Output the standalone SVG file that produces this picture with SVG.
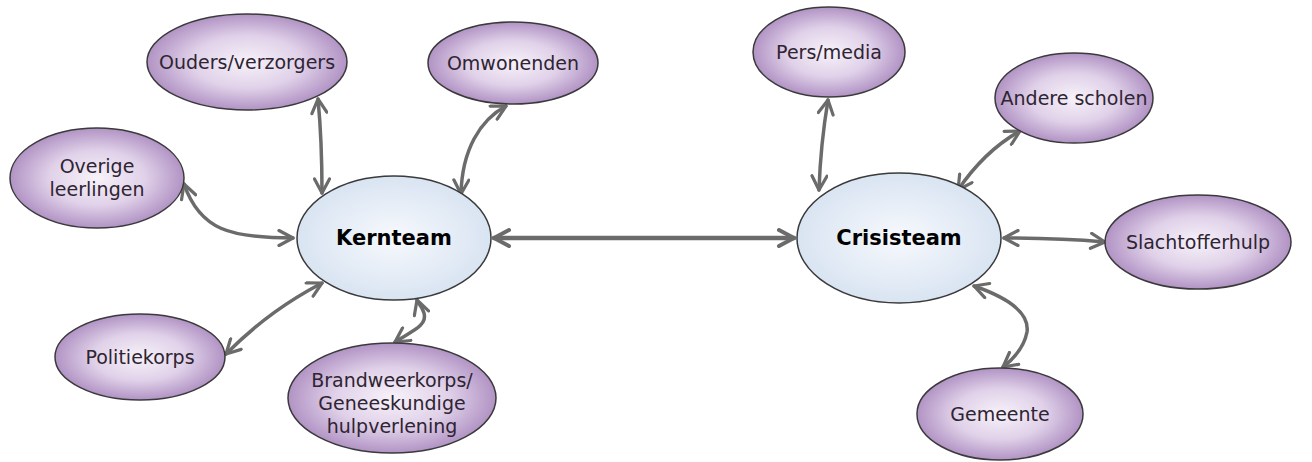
<svg xmlns="http://www.w3.org/2000/svg" width="1312" height="462" viewBox="0 0 1312 462">
<defs>
<radialGradient id="gp" cx="50%" cy="50%" r="50%">
<stop offset="0" stop-color="#f7f2f9"/>
<stop offset="0.55" stop-color="#e0d1e9"/>
<stop offset="1" stop-color="#b193c4"/>
</radialGradient>
<radialGradient id="gb" cx="50%" cy="50%" r="50%">
<stop offset="0" stop-color="#f7f9fd"/>
<stop offset="1" stop-color="#d9e4f2"/>
</radialGradient>
<marker id="ah" viewBox="0 0 18 18" refX="16" refY="9" markerWidth="18" markerHeight="18" markerUnits="userSpaceOnUse" orient="auto-start-reverse">
<path d="M2,1.5 L16,9 L2,16.5" fill="none" stroke="#6b6b6b" stroke-width="3.2" stroke-linecap="round" stroke-linejoin="round"/>
</marker>
<marker id="ahb" viewBox="0 0 20 20" refX="18" refY="10" markerWidth="20" markerHeight="20" markerUnits="userSpaceOnUse" orient="auto-start-reverse">
<path d="M3,2 L18,10 L3,18" fill="none" stroke="#6b6b6b" stroke-width="4" stroke-linecap="round" stroke-linejoin="round"/>
</marker>
</defs>
<style>
.p{fill:url(#gp);stroke:#3a3a3a;stroke-width:1.5}
.b{fill:url(#gb);stroke:#3a3a3a;stroke-width:1.5}
.t{font-family:"DejaVu Sans",Verdana,sans-serif;font-size:19px;fill:#2e2432;text-anchor:middle}
.k{font-family:"DejaVu Sans",Verdana,sans-serif;font-size:21px;font-weight:bold;fill:#000;text-anchor:middle}
.c{fill:none;stroke:#6b6b6b;stroke-width:3.5;stroke-linecap:round;marker-start:url(#ah);marker-end:url(#ah)}
.cb{fill:none;stroke:#6b6b6b;stroke-width:4.5;stroke-linecap:round;marker-start:url(#ahb);marker-end:url(#ahb)}
</style>
<g id="connectors">
<path class="cb" d="M494,238 L794,238"/>
<path class="c" d="M318,99 C321,130 322,160 322,193"/>
<path class="c" d="M506,106 C480,120 462,150 461,194"/>
<path class="c" d="M184,184 C200,230 230,238 293,238"/>
<path class="c" d="M226,354 C260,320 290,300 322,283"/>
<path class="c" d="M395,342 C410,332 428,326 424,313 C422,306 418,303 417,300"/>
<path class="c" d="M828,100 C823,130 820,160 819,190"/>
<path class="c" d="M1020,131 C995,145 975,165 958,190"/>
<path class="c" d="M1004,238 C1040,238 1070,239 1105,242"/>
<path class="c" d="M974,286 C1000,295 1030,310 1027,332 C1024,348 1012,360 1003,367"/>
</g>
<g id="ouders"><ellipse class="p" cx="247" cy="62" rx="100" ry="48"/><text class="t" x="247" y="69">Ouders/verzorgers</text></g>
<g id="omwonenden"><ellipse class="p" cx="513" cy="63" rx="85" ry="41"/><text class="t" x="513" y="70">Omwonenden</text></g>
<g id="overige"><ellipse class="p" cx="97" cy="178" rx="87" ry="50"/><text class="t" x="97" y="173">Overige</text><text class="t" x="97" y="196">leerlingen</text></g>
<g id="kernteam"><ellipse class="b" cx="394" cy="238" rx="97" ry="62"/><text class="k" x="394" y="245">Kernteam</text></g>
<g id="politiekorps"><ellipse class="p" cx="140" cy="357" rx="85" ry="43"/><text class="t" x="140" y="364">Politiekorps</text></g>
<g id="brandweer"><ellipse class="p" cx="392" cy="398" rx="104" ry="55"/><text class="t" x="392" y="387">Brandweerkorps/</text><text class="t" x="392" y="410">Geneeskundige</text><text class="t" x="392" y="433">hulpverlening</text></g>
<g id="pers"><ellipse class="p" cx="829" cy="52" rx="76" ry="45"/><text class="t" x="829" y="59">Pers/media</text></g>
<g id="andere"><ellipse class="p" cx="1074" cy="98" rx="79" ry="45"/><text class="t" x="1074" y="105">Andere scholen</text></g>
<g id="crisisteam"><ellipse class="b" cx="899" cy="238" rx="102" ry="65"/><text class="k" x="899" y="245">Crisisteam</text></g>
<g id="slachtofferhulp"><ellipse class="p" cx="1198" cy="242" rx="93" ry="47"/><text class="t" x="1198" y="249">Slachtofferhulp</text></g>
<g id="gemeente"><ellipse class="p" cx="1000" cy="414" rx="83" ry="46"/><text class="t" x="1000" y="421">Gemeente</text></g>
</svg>
